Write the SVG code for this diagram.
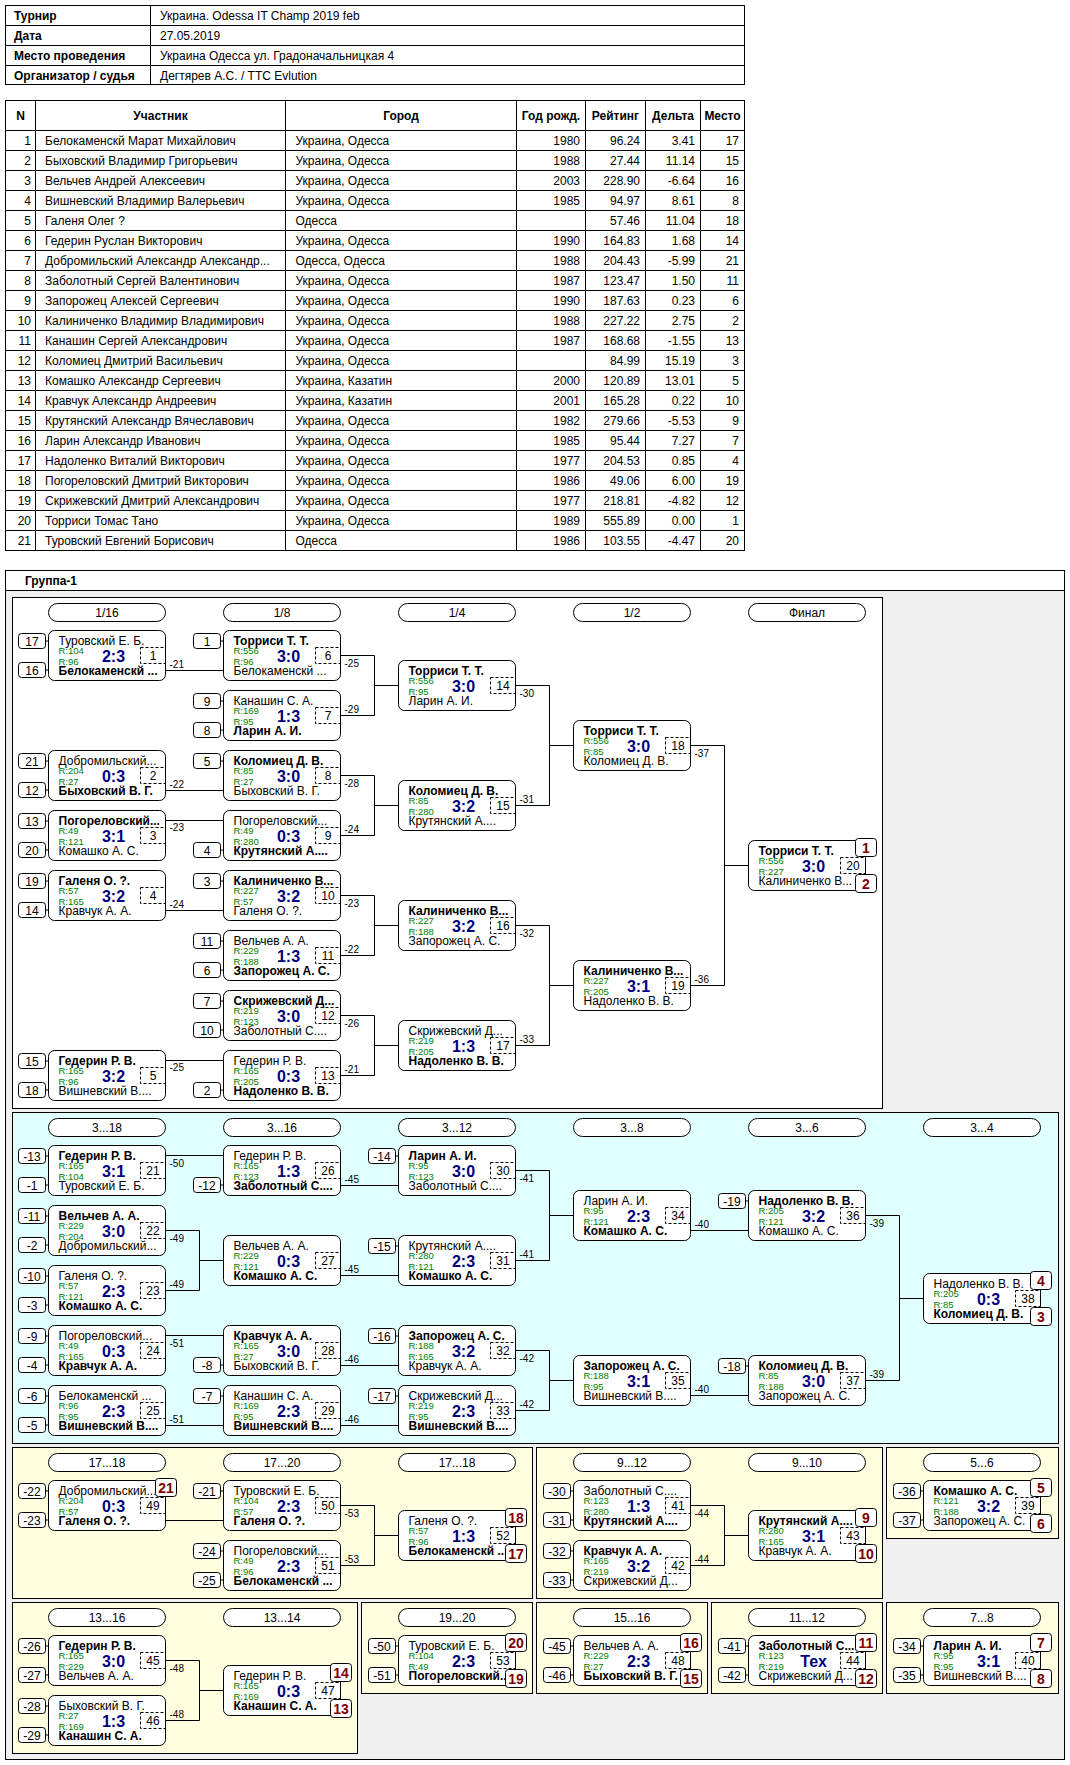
<svg xmlns="http://www.w3.org/2000/svg" width="1070" height="1765" viewBox="0 0 1070 1765">
<style>
text{font-family:"Liberation Sans",Arial,sans-serif;font-size:12px;fill:#000}
.b{font-weight:bold}
.c{text-anchor:middle}
.e{text-anchor:end}
.r{font-size:9.5px;fill:#008000}
.s{font-size:16px;font-weight:bold;fill:#000080;text-anchor:middle}
.l{font-size:10px}
.p{font-size:14px;font-weight:bold;fill:#800000;text-anchor:middle}
.mb,.sb,.bg,.pl{fill:#fff;stroke:#000}
.db{fill:none;stroke:#000;stroke-dasharray:3 2}
.ln,.tl{fill:none;stroke:#000}
.pw{fill:#fff;stroke:#000}
.pc{fill:#e0ffff;stroke:#000}
.py{fill:#ffffe0;stroke:#000}
</style>
<defs>
<g id="fr"><rect class="mb" width="117" height="50" rx="6"/><rect class="db" x="92" y="17" width="25" height="16"/></g>
<g id="st"><rect class="sb" x="-30" y="3" width="27" height="15" rx="3"/><path class="ln" d="M-3 10.5H0"/></g>
<g id="sd"><rect class="sb" x="-30" y="32" width="27" height="15" rx="3"/><path class="ln" d="M-3 39.5H0"/></g>
<rect id="bt" class="bg" x="107" y="-2" width="21" height="18" rx="3"/>
<rect id="bb" class="bg" x="107" y="34" width="21" height="18" rx="3"/>
<rect id="pill" class="pl" width="117" height="18" rx="9"/>
</defs>
<rect width="1070" height="1765" fill="#fff"/>

<g id="info">
<rect class="tl" x="5.5" y="5.5" width="739" height="79"/>
<path class="tl" d="M5.5 25.5H744.5M5.5 45.5H744.5M5.5 65.5H744.5M150.5 5.5V84.5"/>
<text class="b" x="14" y="20">Турнир</text><text x="160" y="20">Украина. Odessa IT Champ 2019 feb</text>
<text class="b" x="14" y="40">Дата</text><text x="160" y="40">27.05.2019</text>
<text class="b" x="14" y="60">Место проведения</text><text x="160" y="60">Украина Одесса ул. Градоначальницкая 4</text>
<text class="b" x="14" y="79.5">Организатор / судья</text><text x="160" y="79.5">Дегтярев А.С. / TTC Evlution</text>
</g>

<g id="players">
<rect class="tl" x="5.5" y="100.5" width="739" height="450"/>
<path class="tl" d="M35.5 100.5V550.5M285.5 100.5V550.5M516.5 100.5V550.5M585.5 100.5V550.5M645.5 100.5V550.5M700.5 100.5V550.5M5.5 130.5H744.5M5.5 150.5H744.5M5.5 170.5H744.5M5.5 190.5H744.5M5.5 210.5H744.5M5.5 230.5H744.5M5.5 250.5H744.5M5.5 270.5H744.5M5.5 290.5H744.5M5.5 310.5H744.5M5.5 330.5H744.5M5.5 350.5H744.5M5.5 370.5H744.5M5.5 390.5H744.5M5.5 410.5H744.5M5.5 430.5H744.5M5.5 450.5H744.5M5.5 470.5H744.5M5.5 490.5H744.5M5.5 510.5H744.5M5.5 530.5H744.5"/>
<g class="b">
<text class="b c" x="20.5" y="120">N</text><text class="b c" x="160.5" y="120">Участник</text><text class="b c" x="401" y="120">Город</text><text class="b c" x="551" y="120">Год рожд.</text><text class="b c" x="615.5" y="120">Рейтинг</text><text class="b c" x="673" y="120">Дельта</text><text class="b c" x="722.5" y="120">Место</text>
</g>
<g>
<text class="e" x="31" y="145">1</text><text x="45" y="145">Белокаменскй Марат Михайлович</text><text x="295.5" y="145">Украина, Одесса</text><text class="e" x="580" y="145">1980</text><text class="e" x="640" y="145">96.24</text><text class="e" x="695" y="145">3.41</text><text class="e" x="739" y="145">17</text>
<text class="e" x="31" y="165">2</text><text x="45" y="165">Быховский Владимир Григорьевич</text><text x="295.5" y="165">Украина, Одесса</text><text class="e" x="580" y="165">1988</text><text class="e" x="640" y="165">27.44</text><text class="e" x="695" y="165">11.14</text><text class="e" x="739" y="165">15</text>
<text class="e" x="31" y="185">3</text><text x="45" y="185">Вельчев Андрей Алексеевич</text><text x="295.5" y="185">Украина, Одесса</text><text class="e" x="580" y="185">2003</text><text class="e" x="640" y="185">228.90</text><text class="e" x="695" y="185">-6.64</text><text class="e" x="739" y="185">16</text>
<text class="e" x="31" y="205">4</text><text x="45" y="205">Вишневский Владимир Валерьевич</text><text x="295.5" y="205">Украина, Одесса</text><text class="e" x="580" y="205">1985</text><text class="e" x="640" y="205">94.97</text><text class="e" x="695" y="205">8.61</text><text class="e" x="739" y="205">8</text>
<text class="e" x="31" y="225">5</text><text x="45" y="225">Галеня Олег ?</text><text x="295.5" y="225">Одесса</text><text class="e" x="640" y="225">57.46</text><text class="e" x="695" y="225">11.04</text><text class="e" x="739" y="225">18</text>
<text class="e" x="31" y="245">6</text><text x="45" y="245">Гедерин Руслан Викторович</text><text x="295.5" y="245">Украина, Одесса</text><text class="e" x="580" y="245">1990</text><text class="e" x="640" y="245">164.83</text><text class="e" x="695" y="245">1.68</text><text class="e" x="739" y="245">14</text>
<text class="e" x="31" y="265">7</text><text x="45" y="265">Добромильский Александр Александр...</text><text x="295.5" y="265">Одесса, Одесса</text><text class="e" x="580" y="265">1988</text><text class="e" x="640" y="265">204.43</text><text class="e" x="695" y="265">-5.99</text><text class="e" x="739" y="265">21</text>
<text class="e" x="31" y="285">8</text><text x="45" y="285">Заболотный Сергей Валентинович</text><text x="295.5" y="285">Украина, Одесса</text><text class="e" x="580" y="285">1987</text><text class="e" x="640" y="285">123.47</text><text class="e" x="695" y="285">1.50</text><text class="e" x="739" y="285">11</text>
<text class="e" x="31" y="305">9</text><text x="45" y="305">Запорожец Алексей Сергеевич</text><text x="295.5" y="305">Украина, Одесса</text><text class="e" x="580" y="305">1990</text><text class="e" x="640" y="305">187.63</text><text class="e" x="695" y="305">0.23</text><text class="e" x="739" y="305">6</text>
<text class="e" x="31" y="325">10</text><text x="45" y="325">Калиниченко Владимир Владимирович</text><text x="295.5" y="325">Украина, Одесса</text><text class="e" x="580" y="325">1988</text><text class="e" x="640" y="325">227.22</text><text class="e" x="695" y="325">2.75</text><text class="e" x="739" y="325">2</text>
<text class="e" x="31" y="345">11</text><text x="45" y="345">Канашин Сергей Александрович</text><text x="295.5" y="345">Украина, Одесса</text><text class="e" x="580" y="345">1987</text><text class="e" x="640" y="345">168.68</text><text class="e" x="695" y="345">-1.55</text><text class="e" x="739" y="345">13</text>
<text class="e" x="31" y="365">12</text><text x="45" y="365">Коломиец Дмитрий Васильевич</text><text x="295.5" y="365">Украина, Одесса</text><text class="e" x="640" y="365">84.99</text><text class="e" x="695" y="365">15.19</text><text class="e" x="739" y="365">3</text>
<text class="e" x="31" y="385">13</text><text x="45" y="385">Комашко Александр Сергеевич</text><text x="295.5" y="385">Украина, Казатин</text><text class="e" x="580" y="385">2000</text><text class="e" x="640" y="385">120.89</text><text class="e" x="695" y="385">13.01</text><text class="e" x="739" y="385">5</text>
<text class="e" x="31" y="405">14</text><text x="45" y="405">Кравчук Александр Андреевич</text><text x="295.5" y="405">Украина, Казатин</text><text class="e" x="580" y="405">2001</text><text class="e" x="640" y="405">165.28</text><text class="e" x="695" y="405">0.22</text><text class="e" x="739" y="405">10</text>
<text class="e" x="31" y="425">15</text><text x="45" y="425">Крутянский Александр Вячеславович</text><text x="295.5" y="425">Украина, Одесса</text><text class="e" x="580" y="425">1982</text><text class="e" x="640" y="425">279.66</text><text class="e" x="695" y="425">-5.53</text><text class="e" x="739" y="425">9</text>
<text class="e" x="31" y="445">16</text><text x="45" y="445">Ларин Александр Иванович</text><text x="295.5" y="445">Украина, Одесса</text><text class="e" x="580" y="445">1985</text><text class="e" x="640" y="445">95.44</text><text class="e" x="695" y="445">7.27</text><text class="e" x="739" y="445">7</text>
<text class="e" x="31" y="465">17</text><text x="45" y="465">Надоленко Виталий Викторович</text><text x="295.5" y="465">Украина, Одесса</text><text class="e" x="580" y="465">1977</text><text class="e" x="640" y="465">204.53</text><text class="e" x="695" y="465">0.85</text><text class="e" x="739" y="465">4</text>
<text class="e" x="31" y="485">18</text><text x="45" y="485">Погореловский Дмитрий Викторович</text><text x="295.5" y="485">Украина, Одесса</text><text class="e" x="580" y="485">1986</text><text class="e" x="640" y="485">49.06</text><text class="e" x="695" y="485">6.00</text><text class="e" x="739" y="485">19</text>
<text class="e" x="31" y="505">19</text><text x="45" y="505">Скрижевский Дмитрий Александрович</text><text x="295.5" y="505">Украина, Одесса</text><text class="e" x="580" y="505">1977</text><text class="e" x="640" y="505">218.81</text><text class="e" x="695" y="505">-4.82</text><text class="e" x="739" y="505">12</text>
<text class="e" x="31" y="525">20</text><text x="45" y="525">Торриси Томас Тано</text><text x="295.5" y="525">Украина, Одесса</text><text class="e" x="580" y="525">1989</text><text class="e" x="640" y="525">555.89</text><text class="e" x="695" y="525">0.00</text><text class="e" x="739" y="525">1</text>
<text class="e" x="31" y="545">21</text><text x="45" y="545">Туровский Евгений Борисович</text><text x="295.5" y="545">Одесса</text><text class="e" x="580" y="545">1986</text><text class="e" x="640" y="545">103.55</text><text class="e" x="695" y="545">-4.47</text><text class="e" x="739" y="545">20</text>
</g>
</g>

<g id="group">
<rect x="5.5" y="570.5" width="1059" height="1189" fill="#f0f0f0" stroke="#000"/>
<rect x="5.5" y="570.5" width="1059" height="20" fill="#fff" stroke="#000"/>
<text class="b" x="25" y="585">Группа-1</text>
<rect class="pw" x="12.5" y="597.5" width="870" height="511"/>
<rect class="pc" x="12.5" y="1112.5" width="1046" height="331"/>
<rect class="py" x="12.5" y="1447.5" width="520" height="151"/>
<rect class="py" x="536.5" y="1447.5" width="346" height="151"/>
<rect class="py" x="886.5" y="1447.5" width="172" height="91"/>
<rect class="py" x="12.5" y="1602.5" width="345" height="151"/>
<rect class="py" x="361.5" y="1602.5" width="171" height="91"/>
<rect class="py" x="536.5" y="1602.5" width="171" height="91"/>
<rect class="py" x="711.5" y="1602.5" width="171" height="91"/>
<rect class="py" x="886.5" y="1602.5" width="172" height="91"/>
</g>

<g id="rounds">
<use href="#pill" x="48.5" y="603.5"/><text class="c" x="107" y="616.5">1/16</text>
<use href="#pill" x="223.5" y="603.5"/><text class="c" x="282" y="616.5">1/8</text>
<use href="#pill" x="398.5" y="603.5"/><text class="c" x="457" y="616.5">1/4</text>
<use href="#pill" x="573.5" y="603.5"/><text class="c" x="632" y="616.5">1/2</text>
<use href="#pill" x="748.5" y="603.5"/><text class="c" x="807" y="616.5">Финал</text>
<use href="#pill" x="48.5" y="1118.5"/><text class="c" x="107" y="1131.5">3...18</text>
<use href="#pill" x="223.5" y="1118.5"/><text class="c" x="282" y="1131.5">3...16</text>
<use href="#pill" x="398.5" y="1118.5"/><text class="c" x="457" y="1131.5">3...12</text>
<use href="#pill" x="573.5" y="1118.5"/><text class="c" x="632" y="1131.5">3...8</text>
<use href="#pill" x="748.5" y="1118.5"/><text class="c" x="807" y="1131.5">3...6</text>
<use href="#pill" x="923.5" y="1118.5"/><text class="c" x="982" y="1131.5">3...4</text>
<use href="#pill" x="48.5" y="1453.5"/><text class="c" x="107" y="1466.5">17...18</text>
<use href="#pill" x="223.5" y="1453.5"/><text class="c" x="282" y="1466.5">17...20</text>
<use href="#pill" x="398.5" y="1453.5"/><text class="c" x="457" y="1466.5">17...18</text>
<use href="#pill" x="573.5" y="1453.5"/><text class="c" x="632" y="1466.5">9...12</text>
<use href="#pill" x="748.5" y="1453.5"/><text class="c" x="807" y="1466.5">9...10</text>
<use href="#pill" x="923.5" y="1453.5"/><text class="c" x="982" y="1466.5">5...6</text>
<use href="#pill" x="48.5" y="1608.5"/><text class="c" x="107" y="1621.5">13...16</text>
<use href="#pill" x="223.5" y="1608.5"/><text class="c" x="282" y="1621.5">13...14</text>
<use href="#pill" x="398.5" y="1608.5"/><text class="c" x="457" y="1621.5">19...20</text>
<use href="#pill" x="573.5" y="1608.5"/><text class="c" x="632" y="1621.5">15...16</text>
<use href="#pill" x="748.5" y="1608.5"/><text class="c" x="807" y="1621.5">11...12</text>
<use href="#pill" x="923.5" y="1608.5"/><text class="c" x="982" y="1621.5">7...8</text>
</g>

<g id="connectors">
<path class="ln" d="M165.5 670.5H223.5M165.5 790.5H223.5M165.5 820.5H223.5M165.5 910.5H223.5M165.5 1060.5H223.5M340.5 655.5H374.5V715.5H340.5M374.5 685.5H398.5M340.5 775.5H374.5V835.5H340.5M374.5 805.5H398.5M340.5 895.5H374.5V955.5H340.5M374.5 925.5H398.5M340.5 1015.5H374.5V1075.5H340.5M374.5 1045.5H398.5M515.5 685.5H549.5V805.5H515.5M549.5 745.5H573.5M515.5 925.5H549.5V1045.5H515.5M549.5 985.5H573.5M690.5 745.5H724.5V985.5H690.5M724.5 865.5H748.5"/>
<path class="ln" d="M165.5 1155.5H223.5M165.5 1230.5H199.5V1290.5H165.5M199.5 1260.5H223.5M165.5 1335.5H223.5M165.5 1425.5H223.5M340.5 1185.5H398.5M340.5 1275.5H398.5M340.5 1365.5H398.5M340.5 1425.5H398.5M515.5 1170.5H549.5V1260.5H515.5M549.5 1215.5H573.5M515.5 1350.5H549.5V1410.5H515.5M549.5 1380.5H573.5M690.5 1230.5H748.5M690.5 1395.5H748.5M865.5 1215.5H899.5V1380.5H865.5M899.5 1298.5H923.5"/>
<path class="ln" d="M165.5 1520.5H223.5M340.5 1505.5H374.5V1565.5H340.5M374.5 1535.5H398.5M690.5 1505.5H724.5V1565.5H690.5M724.5 1535.5H748.5M165.5 1660.5H199.5V1720.5H165.5M199.5 1690.5H223.5"/>
<g class="l">
<text class="l" x="169.5" y="668">-21</text><text class="l" x="169.5" y="788">-22</text><text class="l" x="169.5" y="831">-23</text><text class="l" x="169.5" y="908">-24</text><text class="l" x="169.5" y="1071">-25</text>
<text class="l" x="344.5" y="666.5">-25</text><text class="l" x="344.5" y="712.5">-29</text><text class="l" x="344.5" y="786.5">-28</text><text class="l" x="344.5" y="832.5">-24</text><text class="l" x="344.5" y="906.5">-23</text><text class="l" x="344.5" y="952.5">-22</text><text class="l" x="344.5" y="1026.5">-26</text><text class="l" x="344.5" y="1072.5">-21</text>
<text class="l" x="519.5" y="696.5">-30</text><text class="l" x="519.5" y="802.5">-31</text><text class="l" x="519.5" y="936.5">-32</text><text class="l" x="519.5" y="1042.5">-33</text>
<text class="l" x="694.5" y="756.5">-37</text><text class="l" x="694.5" y="982.5">-36</text>
<text class="l" x="169.5" y="1166.5">-50</text><text class="l" x="169.5" y="1241.5">-49</text><text class="l" x="169.5" y="1287.5">-49</text><text class="l" x="169.5" y="1346.5">-51</text><text class="l" x="169.5" y="1422.5">-51</text>
<text class="l" x="344.5" y="1182.5">-45</text><text class="l" x="344.5" y="1272.5">-45</text><text class="l" x="344.5" y="1362.5">-46</text><text class="l" x="344.5" y="1422.5">-46</text>
<text class="l" x="519.5" y="1181.5">-41</text><text class="l" x="519.5" y="1257.5">-41</text><text class="l" x="519.5" y="1361.5">-42</text><text class="l" x="519.5" y="1407.5">-42</text>
<text class="l" x="694.5" y="1227.5">-40</text><text class="l" x="694.5" y="1392.5">-40</text>
<text class="l" x="869.5" y="1226.5">-39</text><text class="l" x="869.5" y="1377.5">-39</text>
<text class="l" x="344.5" y="1516.5">-53</text><text class="l" x="344.5" y="1562.5">-53</text>
<text class="l" x="694.5" y="1516.5">-44</text><text class="l" x="694.5" y="1562.5">-44</text>
<text class="l" x="169.5" y="1671.5">-48</text><text class="l" x="169.5" y="1717.5">-48</text>
</g>
</g>

<g id="m1" transform="translate(48.5,630.5)"><use href="#fr"/><use href="#st"/><use href="#sd"/><text class="c" x="-16.5" y="15">17</text><text class="c" x="-16.5" y="44">16</text><text x="10" y="14.5">Туровский Е. Б.</text><text class="r" x="10" y="23.5">R:104</text><text class="r" x="10" y="34">R:96</text><text class="b" x="10" y="44.5">Белокаменскй ...</text><text class="s" x="65" y="31">2:3</text><text class="c" x="104.5" y="29.5">1</text></g>
<g id="m2" transform="translate(48.5,750.5)"><use href="#fr"/><use href="#st"/><use href="#sd"/><text class="c" x="-16.5" y="15">21</text><text class="c" x="-16.5" y="44">12</text><text x="10" y="14.5">Добромильский...</text><text class="r" x="10" y="23.5">R:204</text><text class="r" x="10" y="34">R:27</text><text class="b" x="10" y="44.5">Быховский В. Г.</text><text class="s" x="65" y="31">0:3</text><text class="c" x="104.5" y="29.5">2</text></g>
<g id="m3" transform="translate(48.5,810.5)"><use href="#fr"/><use href="#st"/><use href="#sd"/><text class="c" x="-16.5" y="15">13</text><text class="c" x="-16.5" y="44">20</text><text class="b" x="10" y="14.5">Погореловский...</text><text class="r" x="10" y="23.5">R:49</text><text class="r" x="10" y="34">R:121</text><text x="10" y="44.5">Комашко А. С.</text><text class="s" x="65" y="31">3:1</text><text class="c" x="104.5" y="29.5">3</text></g>
<g id="m4" transform="translate(48.5,870.5)"><use href="#fr"/><use href="#st"/><use href="#sd"/><text class="c" x="-16.5" y="15">19</text><text class="c" x="-16.5" y="44">14</text><text class="b" x="10" y="14.5">Галеня О. ?.</text><text class="r" x="10" y="23.5">R:57</text><text class="r" x="10" y="34">R:165</text><text x="10" y="44.5">Кравчук А. А.</text><text class="s" x="65" y="31">3:2</text><text class="c" x="104.5" y="29.5">4</text></g>
<g id="m5" transform="translate(48.5,1050.5)"><use href="#fr"/><use href="#st"/><use href="#sd"/><text class="c" x="-16.5" y="15">15</text><text class="c" x="-16.5" y="44">18</text><text class="b" x="10" y="14.5">Гедерин Р. В.</text><text class="r" x="10" y="23.5">R:165</text><text class="r" x="10" y="34">R:96</text><text x="10" y="44.5">Вишневский В....</text><text class="s" x="65" y="31">3:2</text><text class="c" x="104.5" y="29.5">5</text></g>
<g id="m6" transform="translate(223.5,630.5)"><use href="#fr"/><use href="#st"/><text class="c" x="-16.5" y="15">1</text><text class="b" x="10" y="14.5">Торриси Т. Т.</text><text class="r" x="10" y="23.5">R:556</text><text class="r" x="10" y="34">R:96</text><text x="10" y="44.5">Белокаменскй ...</text><text class="s" x="65" y="31">3:0</text><text class="c" x="104.5" y="29.5">6</text></g>
<g id="m7" transform="translate(223.5,690.5)"><use href="#fr"/><use href="#st"/><use href="#sd"/><text class="c" x="-16.5" y="15">9</text><text class="c" x="-16.5" y="44">8</text><text x="10" y="14.5">Канашин С. А.</text><text class="r" x="10" y="23.5">R:169</text><text class="r" x="10" y="34">R:95</text><text class="b" x="10" y="44.5">Ларин А. И.</text><text class="s" x="65" y="31">1:3</text><text class="c" x="104.5" y="29.5">7</text></g>
<g id="m8" transform="translate(223.5,750.5)"><use href="#fr"/><use href="#st"/><text class="c" x="-16.5" y="15">5</text><text class="b" x="10" y="14.5">Коломиец Д. В.</text><text class="r" x="10" y="23.5">R:85</text><text class="r" x="10" y="34">R:27</text><text x="10" y="44.5">Быховский В. Г.</text><text class="s" x="65" y="31">3:0</text><text class="c" x="104.5" y="29.5">8</text></g>
<g id="m9" transform="translate(223.5,810.5)"><use href="#fr"/><use href="#sd"/><text class="c" x="-16.5" y="44">4</text><text x="10" y="14.5">Погореловский...</text><text class="r" x="10" y="23.5">R:49</text><text class="r" x="10" y="34">R:280</text><text class="b" x="10" y="44.5">Крутянский А....</text><text class="s" x="65" y="31">0:3</text><text class="c" x="104.5" y="29.5">9</text></g>
<g id="m10" transform="translate(223.5,870.5)"><use href="#fr"/><use href="#st"/><text class="c" x="-16.5" y="15">3</text><text class="b" x="10" y="14.5">Калиниченко В...</text><text class="r" x="10" y="23.5">R:227</text><text class="r" x="10" y="34">R:57</text><text x="10" y="44.5">Галеня О. ?.</text><text class="s" x="65" y="31">3:2</text><text class="c" x="104.5" y="29.5">10</text></g>
<g id="m11" transform="translate(223.5,930.5)"><use href="#fr"/><use href="#st"/><use href="#sd"/><text class="c" x="-16.5" y="15">11</text><text class="c" x="-16.5" y="44">6</text><text x="10" y="14.5">Вельчев А. А.</text><text class="r" x="10" y="23.5">R:229</text><text class="r" x="10" y="34">R:188</text><text class="b" x="10" y="44.5">Запорожец А. С.</text><text class="s" x="65" y="31">1:3</text><text class="c" x="104.5" y="29.5">11</text></g>
<g id="m12" transform="translate(223.5,990.5)"><use href="#fr"/><use href="#st"/><use href="#sd"/><text class="c" x="-16.5" y="15">7</text><text class="c" x="-16.5" y="44">10</text><text class="b" x="10" y="14.5">Скрижевский Д...</text><text class="r" x="10" y="23.5">R:219</text><text class="r" x="10" y="34">R:123</text><text x="10" y="44.5">Заболотный С....</text><text class="s" x="65" y="31">3:0</text><text class="c" x="104.5" y="29.5">12</text></g>
<g id="m13" transform="translate(223.5,1050.5)"><use href="#fr"/><use href="#sd"/><text class="c" x="-16.5" y="44">2</text><text x="10" y="14.5">Гедерин Р. В.</text><text class="r" x="10" y="23.5">R:165</text><text class="r" x="10" y="34">R:205</text><text class="b" x="10" y="44.5">Надоленко В. В.</text><text class="s" x="65" y="31">0:3</text><text class="c" x="104.5" y="29.5">13</text></g>
<g id="m14" transform="translate(398.5,660.5)"><use href="#fr"/><text class="b" x="10" y="14.5">Торриси Т. Т.</text><text class="r" x="10" y="23.5">R:556</text><text class="r" x="10" y="34">R:95</text><text x="10" y="44.5">Ларин А. И.</text><text class="s" x="65" y="31">3:0</text><text class="c" x="104.5" y="29.5">14</text></g>
<g id="m15" transform="translate(398.5,780.5)"><use href="#fr"/><text class="b" x="10" y="14.5">Коломиец Д. В.</text><text class="r" x="10" y="23.5">R:85</text><text class="r" x="10" y="34">R:280</text><text x="10" y="44.5">Крутянский А....</text><text class="s" x="65" y="31">3:2</text><text class="c" x="104.5" y="29.5">15</text></g>
<g id="m16" transform="translate(398.5,900.5)"><use href="#fr"/><text class="b" x="10" y="14.5">Калиниченко В...</text><text class="r" x="10" y="23.5">R:227</text><text class="r" x="10" y="34">R:188</text><text x="10" y="44.5">Запорожец А. С.</text><text class="s" x="65" y="31">3:2</text><text class="c" x="104.5" y="29.5">16</text></g>
<g id="m17" transform="translate(398.5,1020.5)"><use href="#fr"/><text x="10" y="14.5">Скрижевский Д...</text><text class="r" x="10" y="23.5">R:219</text><text class="r" x="10" y="34">R:205</text><text class="b" x="10" y="44.5">Надоленко В. В.</text><text class="s" x="65" y="31">1:3</text><text class="c" x="104.5" y="29.5">17</text></g>
<g id="m18" transform="translate(573.5,720.5)"><use href="#fr"/><text class="b" x="10" y="14.5">Торриси Т. Т.</text><text class="r" x="10" y="23.5">R:556</text><text class="r" x="10" y="34">R:85</text><text x="10" y="44.5">Коломиец Д. В.</text><text class="s" x="65" y="31">3:0</text><text class="c" x="104.5" y="29.5">18</text></g>
<g id="m19" transform="translate(573.5,960.5)"><use href="#fr"/><text class="b" x="10" y="14.5">Калиниченко В...</text><text class="r" x="10" y="23.5">R:227</text><text class="r" x="10" y="34">R:205</text><text x="10" y="44.5">Надоленко В. В.</text><text class="s" x="65" y="31">3:1</text><text class="c" x="104.5" y="29.5">19</text></g>
<g id="m20" transform="translate(748.5,840.5)"><use href="#fr"/><text class="b" x="10" y="14.5">Торриси Т. Т.</text><text class="r" x="10" y="23.5">R:556</text><text class="r" x="10" y="34">R:227</text><text x="10" y="44.5">Калиниченко В...</text><text class="s" x="65" y="31">3:0</text><text class="c" x="104.5" y="29.5">20</text><use href="#bt"/><use href="#bb"/><text class="p" x="117.5" y="12.5">1</text><text class="p" x="117.5" y="48.5">2</text></g>

<g id="m21" transform="translate(48.5,1145.5)"><use href="#fr"/><use href="#st"/><use href="#sd"/><text class="c" x="-16.5" y="15">-13</text><text class="c" x="-16.5" y="44">-1</text><text class="b" x="10" y="14.5">Гедерин Р. В.</text><text class="r" x="10" y="23.5">R:165</text><text class="r" x="10" y="34">R:104</text><text x="10" y="44.5">Туровский Е. Б.</text><text class="s" x="65" y="31">3:1</text><text class="c" x="104.5" y="29.5">21</text></g>
<g id="m22" transform="translate(48.5,1205.5)"><use href="#fr"/><use href="#st"/><use href="#sd"/><text class="c" x="-16.5" y="15">-11</text><text class="c" x="-16.5" y="44">-2</text><text class="b" x="10" y="14.5">Вельчев А. А.</text><text class="r" x="10" y="23.5">R:229</text><text class="r" x="10" y="34">R:204</text><text x="10" y="44.5">Добромильский...</text><text class="s" x="65" y="31">3:0</text><text class="c" x="104.5" y="29.5">22</text></g>
<g id="m23" transform="translate(48.5,1265.5)"><use href="#fr"/><use href="#st"/><use href="#sd"/><text class="c" x="-16.5" y="15">-10</text><text class="c" x="-16.5" y="44">-3</text><text x="10" y="14.5">Галеня О. ?.</text><text class="r" x="10" y="23.5">R:57</text><text class="r" x="10" y="34">R:121</text><text class="b" x="10" y="44.5">Комашко А. С.</text><text class="s" x="65" y="31">2:3</text><text class="c" x="104.5" y="29.5">23</text></g>
<g id="m24" transform="translate(48.5,1325.5)"><use href="#fr"/><use href="#st"/><use href="#sd"/><text class="c" x="-16.5" y="15">-9</text><text class="c" x="-16.5" y="44">-4</text><text x="10" y="14.5">Погореловский...</text><text class="r" x="10" y="23.5">R:49</text><text class="r" x="10" y="34">R:165</text><text class="b" x="10" y="44.5">Кравчук А. А.</text><text class="s" x="65" y="31">0:3</text><text class="c" x="104.5" y="29.5">24</text></g>
<g id="m25" transform="translate(48.5,1385.5)"><use href="#fr"/><use href="#st"/><use href="#sd"/><text class="c" x="-16.5" y="15">-6</text><text class="c" x="-16.5" y="44">-5</text><text x="10" y="14.5">Белокаменскй ...</text><text class="r" x="10" y="23.5">R:96</text><text class="r" x="10" y="34">R:95</text><text class="b" x="10" y="44.5">Вишневский В....</text><text class="s" x="65" y="31">2:3</text><text class="c" x="104.5" y="29.5">25</text></g>
<g id="m26" transform="translate(223.5,1145.5)"><use href="#fr"/><use href="#sd"/><text class="c" x="-16.5" y="44">-12</text><text x="10" y="14.5">Гедерин Р. В.</text><text class="r" x="10" y="23.5">R:165</text><text class="r" x="10" y="34">R:123</text><text class="b" x="10" y="44.5">Заболотный С....</text><text class="s" x="65" y="31">1:3</text><text class="c" x="104.5" y="29.5">26</text></g>
<g id="m27" transform="translate(223.5,1235.5)"><use href="#fr"/><text x="10" y="14.5">Вельчев А. А.</text><text class="r" x="10" y="23.5">R:229</text><text class="r" x="10" y="34">R:121</text><text class="b" x="10" y="44.5">Комашко А. С.</text><text class="s" x="65" y="31">0:3</text><text class="c" x="104.5" y="29.5">27</text></g>
<g id="m28" transform="translate(223.5,1325.5)"><use href="#fr"/><use href="#sd"/><text class="c" x="-16.5" y="44">-8</text><text class="b" x="10" y="14.5">Кравчук А. А.</text><text class="r" x="10" y="23.5">R:165</text><text class="r" x="10" y="34">R:27</text><text x="10" y="44.5">Быховский В. Г.</text><text class="s" x="65" y="31">3:0</text><text class="c" x="104.5" y="29.5">28</text></g>
<g id="m29" transform="translate(223.5,1385.5)"><use href="#fr"/><use href="#st"/><text class="c" x="-16.5" y="15">-7</text><text x="10" y="14.5">Канашин С. А.</text><text class="r" x="10" y="23.5">R:169</text><text class="r" x="10" y="34">R:95</text><text class="b" x="10" y="44.5">Вишневский В....</text><text class="s" x="65" y="31">2:3</text><text class="c" x="104.5" y="29.5">29</text></g>
<g id="m30" transform="translate(398.5,1145.5)"><use href="#fr"/><use href="#st"/><text class="c" x="-16.5" y="15">-14</text><text class="b" x="10" y="14.5">Ларин А. И.</text><text class="r" x="10" y="23.5">R:95</text><text class="r" x="10" y="34">R:123</text><text x="10" y="44.5">Заболотный С....</text><text class="s" x="65" y="31">3:0</text><text class="c" x="104.5" y="29.5">30</text></g>
<g id="m31" transform="translate(398.5,1235.5)"><use href="#fr"/><use href="#st"/><text class="c" x="-16.5" y="15">-15</text><text x="10" y="14.5">Крутянский А....</text><text class="r" x="10" y="23.5">R:280</text><text class="r" x="10" y="34">R:121</text><text class="b" x="10" y="44.5">Комашко А. С.</text><text class="s" x="65" y="31">2:3</text><text class="c" x="104.5" y="29.5">31</text></g>
<g id="m32" transform="translate(398.5,1325.5)"><use href="#fr"/><use href="#st"/><text class="c" x="-16.5" y="15">-16</text><text class="b" x="10" y="14.5">Запорожец А. С.</text><text class="r" x="10" y="23.5">R:188</text><text class="r" x="10" y="34">R:165</text><text x="10" y="44.5">Кравчук А. А.</text><text class="s" x="65" y="31">3:2</text><text class="c" x="104.5" y="29.5">32</text></g>
<g id="m33" transform="translate(398.5,1385.5)"><use href="#fr"/><use href="#st"/><text class="c" x="-16.5" y="15">-17</text><text x="10" y="14.5">Скрижевский Д...</text><text class="r" x="10" y="23.5">R:219</text><text class="r" x="10" y="34">R:95</text><text class="b" x="10" y="44.5">Вишневский В....</text><text class="s" x="65" y="31">2:3</text><text class="c" x="104.5" y="29.5">33</text></g>
<g id="m34" transform="translate(573.5,1190.5)"><use href="#fr"/><text x="10" y="14.5">Ларин А. И.</text><text class="r" x="10" y="23.5">R:95</text><text class="r" x="10" y="34">R:121</text><text class="b" x="10" y="44.5">Комашко А. С.</text><text class="s" x="65" y="31">2:3</text><text class="c" x="104.5" y="29.5">34</text></g>
<g id="m35" transform="translate(573.5,1355.5)"><use href="#fr"/><text class="b" x="10" y="14.5">Запорожец А. С.</text><text class="r" x="10" y="23.5">R:188</text><text class="r" x="10" y="34">R:95</text><text x="10" y="44.5">Вишневский В....</text><text class="s" x="65" y="31">3:1</text><text class="c" x="104.5" y="29.5">35</text></g>
<g id="m36" transform="translate(748.5,1190.5)"><use href="#fr"/><use href="#st"/><text class="c" x="-16.5" y="15">-19</text><text class="b" x="10" y="14.5">Надоленко В. В.</text><text class="r" x="10" y="23.5">R:205</text><text class="r" x="10" y="34">R:121</text><text x="10" y="44.5">Комашко А. С.</text><text class="s" x="65" y="31">3:2</text><text class="c" x="104.5" y="29.5">36</text></g>
<g id="m37" transform="translate(748.5,1355.5)"><use href="#fr"/><use href="#st"/><text class="c" x="-16.5" y="15">-18</text><text class="b" x="10" y="14.5">Коломиец Д. В.</text><text class="r" x="10" y="23.5">R:85</text><text class="r" x="10" y="34">R:188</text><text x="10" y="44.5">Запорожец А. С.</text><text class="s" x="65" y="31">3:0</text><text class="c" x="104.5" y="29.5">37</text></g>
<g id="m38" transform="translate(923.5,1273.5)"><use href="#fr"/><text x="10" y="14.5">Надоленко В. В.</text><text class="r" x="10" y="23.5">R:205</text><text class="r" x="10" y="34">R:85</text><text class="b" x="10" y="44.5">Коломиец Д. В.</text><text class="s" x="65" y="31">0:3</text><text class="c" x="104.5" y="29.5">38</text><use href="#bt"/><use href="#bb"/><text class="p" x="117.5" y="12.5">4</text><text class="p" x="117.5" y="48.5">3</text></g>

<g id="m49" transform="translate(48.5,1480.5)"><use href="#fr"/><use href="#st"/><use href="#sd"/><text class="c" x="-16.5" y="15">-22</text><text class="c" x="-16.5" y="44">-23</text><text x="10" y="14.5">Добромильский...</text><text class="r" x="10" y="23.5">R:204</text><text class="r" x="10" y="34">R:57</text><text class="b" x="10" y="44.5">Галеня О. ?.</text><text class="s" x="65" y="31">0:3</text><text class="c" x="104.5" y="29.5">49</text><use href="#bt"/><text class="p" x="117.5" y="12.5">21</text></g>
<g id="m50" transform="translate(223.5,1480.5)"><use href="#fr"/><use href="#st"/><text class="c" x="-16.5" y="15">-21</text><text x="10" y="14.5">Туровский Е. Б.</text><text class="r" x="10" y="23.5">R:104</text><text class="r" x="10" y="34">R:57</text><text class="b" x="10" y="44.5">Галеня О. ?.</text><text class="s" x="65" y="31">2:3</text><text class="c" x="104.5" y="29.5">50</text></g>
<g id="m51" transform="translate(223.5,1540.5)"><use href="#fr"/><use href="#st"/><use href="#sd"/><text class="c" x="-16.5" y="15">-24</text><text class="c" x="-16.5" y="44">-25</text><text x="10" y="14.5">Погореловский...</text><text class="r" x="10" y="23.5">R:49</text><text class="r" x="10" y="34">R:96</text><text class="b" x="10" y="44.5">Белокаменскй ...</text><text class="s" x="65" y="31">2:3</text><text class="c" x="104.5" y="29.5">51</text></g>
<g id="m52" transform="translate(398.5,1510.5)"><use href="#fr"/><text x="10" y="14.5">Галеня О. ?.</text><text class="r" x="10" y="23.5">R:57</text><text class="r" x="10" y="34">R:96</text><text class="b" x="10" y="44.5">Белокаменскй ...</text><text class="s" x="65" y="31">1:3</text><text class="c" x="104.5" y="29.5">52</text><use href="#bt"/><use href="#bb"/><text class="p" x="117.5" y="12.5">18</text><text class="p" x="117.5" y="48.5">17</text></g>
<g id="m41" transform="translate(573.5,1480.5)"><use href="#fr"/><use href="#st"/><use href="#sd"/><text class="c" x="-16.5" y="15">-30</text><text class="c" x="-16.5" y="44">-31</text><text x="10" y="14.5">Заболотный С....</text><text class="r" x="10" y="23.5">R:123</text><text class="r" x="10" y="34">R:280</text><text class="b" x="10" y="44.5">Крутянский А....</text><text class="s" x="65" y="31">1:3</text><text class="c" x="104.5" y="29.5">41</text></g>
<g id="m42" transform="translate(573.5,1540.5)"><use href="#fr"/><use href="#st"/><use href="#sd"/><text class="c" x="-16.5" y="15">-32</text><text class="c" x="-16.5" y="44">-33</text><text class="b" x="10" y="14.5">Кравчук А. А.</text><text class="r" x="10" y="23.5">R:165</text><text class="r" x="10" y="34">R:219</text><text x="10" y="44.5">Скрижевский Д...</text><text class="s" x="65" y="31">3:2</text><text class="c" x="104.5" y="29.5">42</text></g>
<g id="m43" transform="translate(748.5,1510.5)"><use href="#fr"/><text class="b" x="10" y="14.5">Крутянский А....</text><text class="r" x="10" y="23.5">R:280</text><text class="r" x="10" y="34">R:165</text><text x="10" y="44.5">Кравчук А. А.</text><text class="s" x="65" y="31">3:1</text><text class="c" x="104.5" y="29.5">43</text><use href="#bt"/><use href="#bb"/><text class="p" x="117.5" y="12.5">9</text><text class="p" x="117.5" y="48.5">10</text></g>
<g id="m39" transform="translate(923.5,1480.5)"><use href="#fr"/><use href="#st"/><use href="#sd"/><text class="c" x="-16.5" y="15">-36</text><text class="c" x="-16.5" y="44">-37</text><text class="b" x="10" y="14.5">Комашко А. С.</text><text class="r" x="10" y="23.5">R:121</text><text class="r" x="10" y="34">R:188</text><text x="10" y="44.5">Запорожец А. С.</text><text class="s" x="65" y="31">3:2</text><text class="c" x="104.5" y="29.5">39</text><use href="#bt"/><use href="#bb"/><text class="p" x="117.5" y="12.5">5</text><text class="p" x="117.5" y="48.5">6</text></g>
<g id="m45" transform="translate(48.5,1635.5)"><use href="#fr"/><use href="#st"/><use href="#sd"/><text class="c" x="-16.5" y="15">-26</text><text class="c" x="-16.5" y="44">-27</text><text class="b" x="10" y="14.5">Гедерин Р. В.</text><text class="r" x="10" y="23.5">R:165</text><text class="r" x="10" y="34">R:229</text><text x="10" y="44.5">Вельчев А. А.</text><text class="s" x="65" y="31">3:0</text><text class="c" x="104.5" y="29.5">45</text></g>
<g id="m46" transform="translate(48.5,1695.5)"><use href="#fr"/><use href="#st"/><use href="#sd"/><text class="c" x="-16.5" y="15">-28</text><text class="c" x="-16.5" y="44">-29</text><text x="10" y="14.5">Быховский В. Г.</text><text class="r" x="10" y="23.5">R:27</text><text class="r" x="10" y="34">R:169</text><text class="b" x="10" y="44.5">Канашин С. А.</text><text class="s" x="65" y="31">1:3</text><text class="c" x="104.5" y="29.5">46</text></g>
<g id="m47" transform="translate(223.5,1665.5)"><use href="#fr"/><text x="10" y="14.5">Гедерин Р. В.</text><text class="r" x="10" y="23.5">R:165</text><text class="r" x="10" y="34">R:169</text><text class="b" x="10" y="44.5">Канашин С. А.</text><text class="s" x="65" y="31">0:3</text><text class="c" x="104.5" y="29.5">47</text><use href="#bt"/><use href="#bb"/><text class="p" x="117.5" y="12.5">14</text><text class="p" x="117.5" y="48.5">13</text></g>
<g id="m53" transform="translate(398.5,1635.5)"><use href="#fr"/><use href="#st"/><use href="#sd"/><text class="c" x="-16.5" y="15">-50</text><text class="c" x="-16.5" y="44">-51</text><text x="10" y="14.5">Туровский Е. Б.</text><text class="r" x="10" y="23.5">R:104</text><text class="r" x="10" y="34">R:49</text><text class="b" x="10" y="44.5">Погореловский...</text><text class="s" x="65" y="31">2:3</text><text class="c" x="104.5" y="29.5">53</text><use href="#bt"/><use href="#bb"/><text class="p" x="117.5" y="12.5">20</text><text class="p" x="117.5" y="48.5">19</text></g>
<g id="m48" transform="translate(573.5,1635.5)"><use href="#fr"/><use href="#st"/><use href="#sd"/><text class="c" x="-16.5" y="15">-45</text><text class="c" x="-16.5" y="44">-46</text><text x="10" y="14.5">Вельчев А. А.</text><text class="r" x="10" y="23.5">R:229</text><text class="r" x="10" y="34">R:27</text><text class="b" x="10" y="44.5">Быховский В. Г.</text><text class="s" x="65" y="31">2:3</text><text class="c" x="104.5" y="29.5">48</text><use href="#bt"/><use href="#bb"/><text class="p" x="117.5" y="12.5">16</text><text class="p" x="117.5" y="48.5">15</text></g>
<g id="m44" transform="translate(748.5,1635.5)"><use href="#fr"/><use href="#st"/><use href="#sd"/><text class="c" x="-16.5" y="15">-41</text><text class="c" x="-16.5" y="44">-42</text><text class="b" x="10" y="14.5">Заболотный С....</text><text class="r" x="10" y="23.5">R:123</text><text class="r" x="10" y="34">R:219</text><text x="10" y="44.5">Скрижевский Д...</text><text class="s" x="65" y="31">Тех</text><text class="c" x="104.5" y="29.5">44</text><use href="#bt"/><use href="#bb"/><text class="p" x="117.5" y="12.5">11</text><text class="p" x="117.5" y="48.5">12</text></g>
<g id="m40" transform="translate(923.5,1635.5)"><use href="#fr"/><use href="#st"/><use href="#sd"/><text class="c" x="-16.5" y="15">-34</text><text class="c" x="-16.5" y="44">-35</text><text class="b" x="10" y="14.5">Ларин А. И.</text><text class="r" x="10" y="23.5">R:95</text><text class="r" x="10" y="34">R:95</text><text x="10" y="44.5">Вишневский В....</text><text class="s" x="65" y="31">3:1</text><text class="c" x="104.5" y="29.5">40</text><use href="#bt"/><use href="#bb"/><text class="p" x="117.5" y="12.5">7</text><text class="p" x="117.5" y="48.5">8</text></g>
</svg>
